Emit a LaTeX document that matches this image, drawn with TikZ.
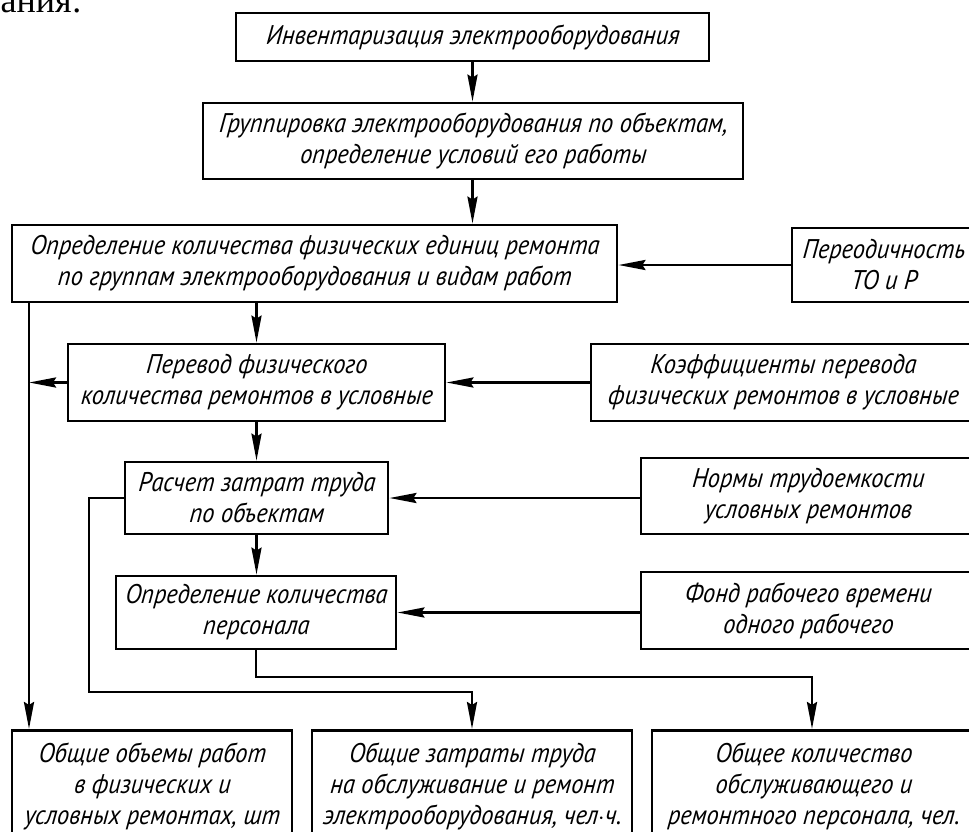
\documentclass[tikz,border=0pt]{standalone}
\usepackage{fontspec}
\setmainfont{PT Sans}
\newfontfamily\gostfont{PT Sans}[UprightFont=* Italic,FakeStretch=0.9,FakeSlant=0.08]
\newfontfamily\seriffont{Liberation Serif}
\usetikzlibrary{arrows.meta,calc}
\begin{document}
\begin{tikzpicture}[x=1pt,y=-1pt,
  box/.style={draw,line width=2.8pt,inner sep=2pt,align=center,
    font=\gostfont\fontsize{27}{31}\selectfont},
  arr/.style={line width=2.8pt,-{Stealth[length=27pt,width=10pt,inset=3pt]}},
  ln/.style={line width=2.8pt}]
\useasboundingbox (0,0) rectangle (969,831);
\node[font=\seriffont\fontsize{36}{40}\selectfont,anchor=base east,inner sep=0pt] (frag) at (82,12) {ания:};
% main column
\node[box,minimum width=473pt,minimum height=48pt] (n1) at (472.5,37) {Инвентаризация электрооборудования};
\node[box,minimum width=540pt,minimum height=76pt] (n2) at (473,141) {Группировка электрооборудования по объектам,\\ определение условий его работы};
\node[box,minimum width=605pt,minimum height=77pt] (n3) at (314.5,263.5) {Определение количества физических единиц ремонта\\ по группам электрооборудования и видам работ};
\node[box,minimum width=183pt,minimum height=74pt] (nTO) at (883.5,265) {Переодичность\\ ТО и Р};
\node[box,minimum width=377pt,minimum height=77pt] (n4) at (256.5,382.5) {Перевод физического\\ количества ремонтов в условные};
\node[box,minimum width=384pt,minimum height=77pt] (nK) at (783,382.5) {Коэффициенты перевода\\ физических ремонтов в условные};
\node[box,minimum width=263pt,minimum height=72pt] (n5) at (256.5,498) {Расчет затрат труда\\ по объектам};
\node[box,minimum width=334pt,minimum height=76pt] (nN) at (808,496) {Нормы трудоемкости\\ условных ремонтов};
\node[box,minimum width=280pt,minimum height=73pt] (n6) at (256,612.5) {Определение количества\\ персонала};
\node[box,minimum width=334pt,minimum height=77pt] (nF) at (808,610.5) {Фонд рабочего времени\\ одного рабочего};
% bottom boxes
\node[box,minimum width=280pt,minimum height=112pt,anchor=north] (b1) at (152,729) {Общие объемы работ\\ в физических и\\ условных ремонтах, шт};
\node[box,minimum width=320pt,minimum height=112pt,anchor=north] (b2) at (472,729) {Общие затраты труда\\ на обслуживание и ремонт\\ электрооборудования, чел$\cdot$ч.};
\node[box,minimum width=323pt,minimum height=112pt,anchor=north] (b3) at (813.5,729) {Общее количество\\ обслуживающего и\\ ремонтного персонала, чел.};
% helper coordinates
\coordinate (L) at (29,0);
\coordinate (M) at (89,0);
\coordinate (R) at (812,0);
% connectors
\draw[arr] (n1.south) -- (n1.south |- n2.north);
\draw[arr] (n2.south -| n1.south) -- (n1.south |- n3.north);
\draw[arr] (nTO.west) -- (nTO.west -| n3.east);
\draw[arr] (n4.north |- n3.south) -- (n4.north);
\draw[arr] (n3.south -| L) -- (b1.north -| L);
\draw[arr] (n4.west) -- (n4.west -| L);
\draw[arr] (nK.west) -- (nK.west -| n4.east);
\draw[arr] (n4.south) -- (n4.south |- n5.north);
\draw[arr] (n5.east -| nN.west) -- (n5.east);
\draw[arr] (n5.west) -- (n5.west -| M) -- ($(M |- b2.north)+(0,-37)$) -- ($(b2.north)+(0,-37)$) -- (b2.north);
\draw[arr] (n5.south) -- (n5.south |- n6.north);
\draw[arr] (n6.east -| nF.west) -- (n6.east);
\draw[arr] (n6.south) -- ($(n6.south)+(0,26.5)$) -- ($(R |- n6.south)+(0,26.5)$) -- (R |- b3.north);
\end{tikzpicture}
\end{document}
